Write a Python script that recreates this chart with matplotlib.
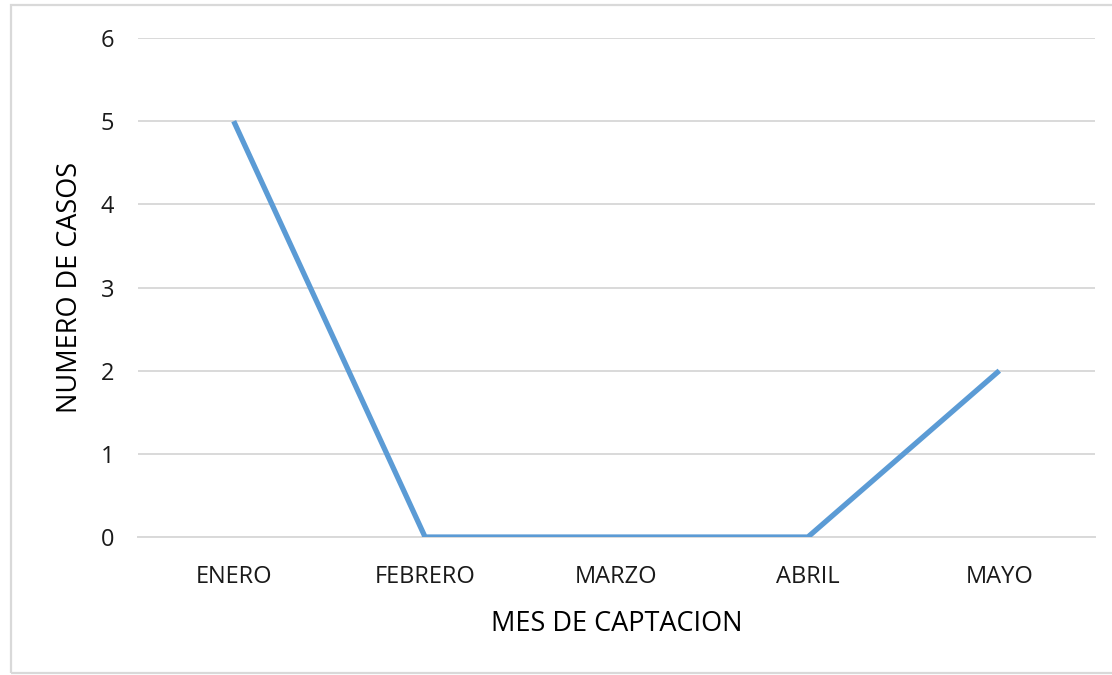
import matplotlib.pyplot as plt
from matplotlib.patches import Rectangle

# datos del grafico
meses = ['ENERO', 'FEBRERO', 'MARZO', 'ABRIL', 'MAYO']
casos = [5, 0, 0, 0, 2]
yticks = [0, 1, 2, 3, 4, 5, 6]

plt.rcParams['font.family'] = ['Open Sans', 'DejaVu Sans']

fig = plt.figure(figsize=(11.12, 6.75), dpi=100)
ax = fig.add_axes([0.1241, 0.2044, 0.8606, 0.7393])

# marco gris alrededor del grafico
fig.patches.append(Rectangle((11 / 1112, 2 / 675), 1.2, 1 - 7 / 675,
                             transform=fig.transFigure, fill=False,
                             edgecolor='#d9d9d9', linewidth=1.6))

x = list(range(len(meses)))
ax.plot(x, casos, color='#5b9bd5', linewidth=3.8, solid_capstyle='butt',
        solid_joinstyle='miter', zorder=3)

ax.set_xlim(-0.5, len(meses) - 0.5)
ax.set_ylim(0, 6)
ax.set_yticks(yticks)
ax.set_xticks(x)
ax.set_xticklabels(meses)
ax.yaxis.grid(True, color='#d9d9d9', linewidth=1.4)
ax.set_axisbelow(True)
for s in ['top', 'right', 'left']:
    ax.spines[s].set_visible(False)
ax.spines['bottom'].set_color('#d9d9d9')
ax.spines['bottom'].set_linewidth(1.4)
ax.tick_params(length=0, labelsize=17, colors='#1a1a1a')
ax.tick_params(axis='y', pad=17)
ax.tick_params(axis='x', pad=20)

ax.set_xlabel('MES DE CAPTACION', fontsize=19.5, labelpad=15)
ax.set_ylabel('NUMERO DE CASOS', fontsize=19.5, va='center')
ax.yaxis.set_label_coords(-0.071, 0.5)

fig.savefig('out.png', dpi=100)
